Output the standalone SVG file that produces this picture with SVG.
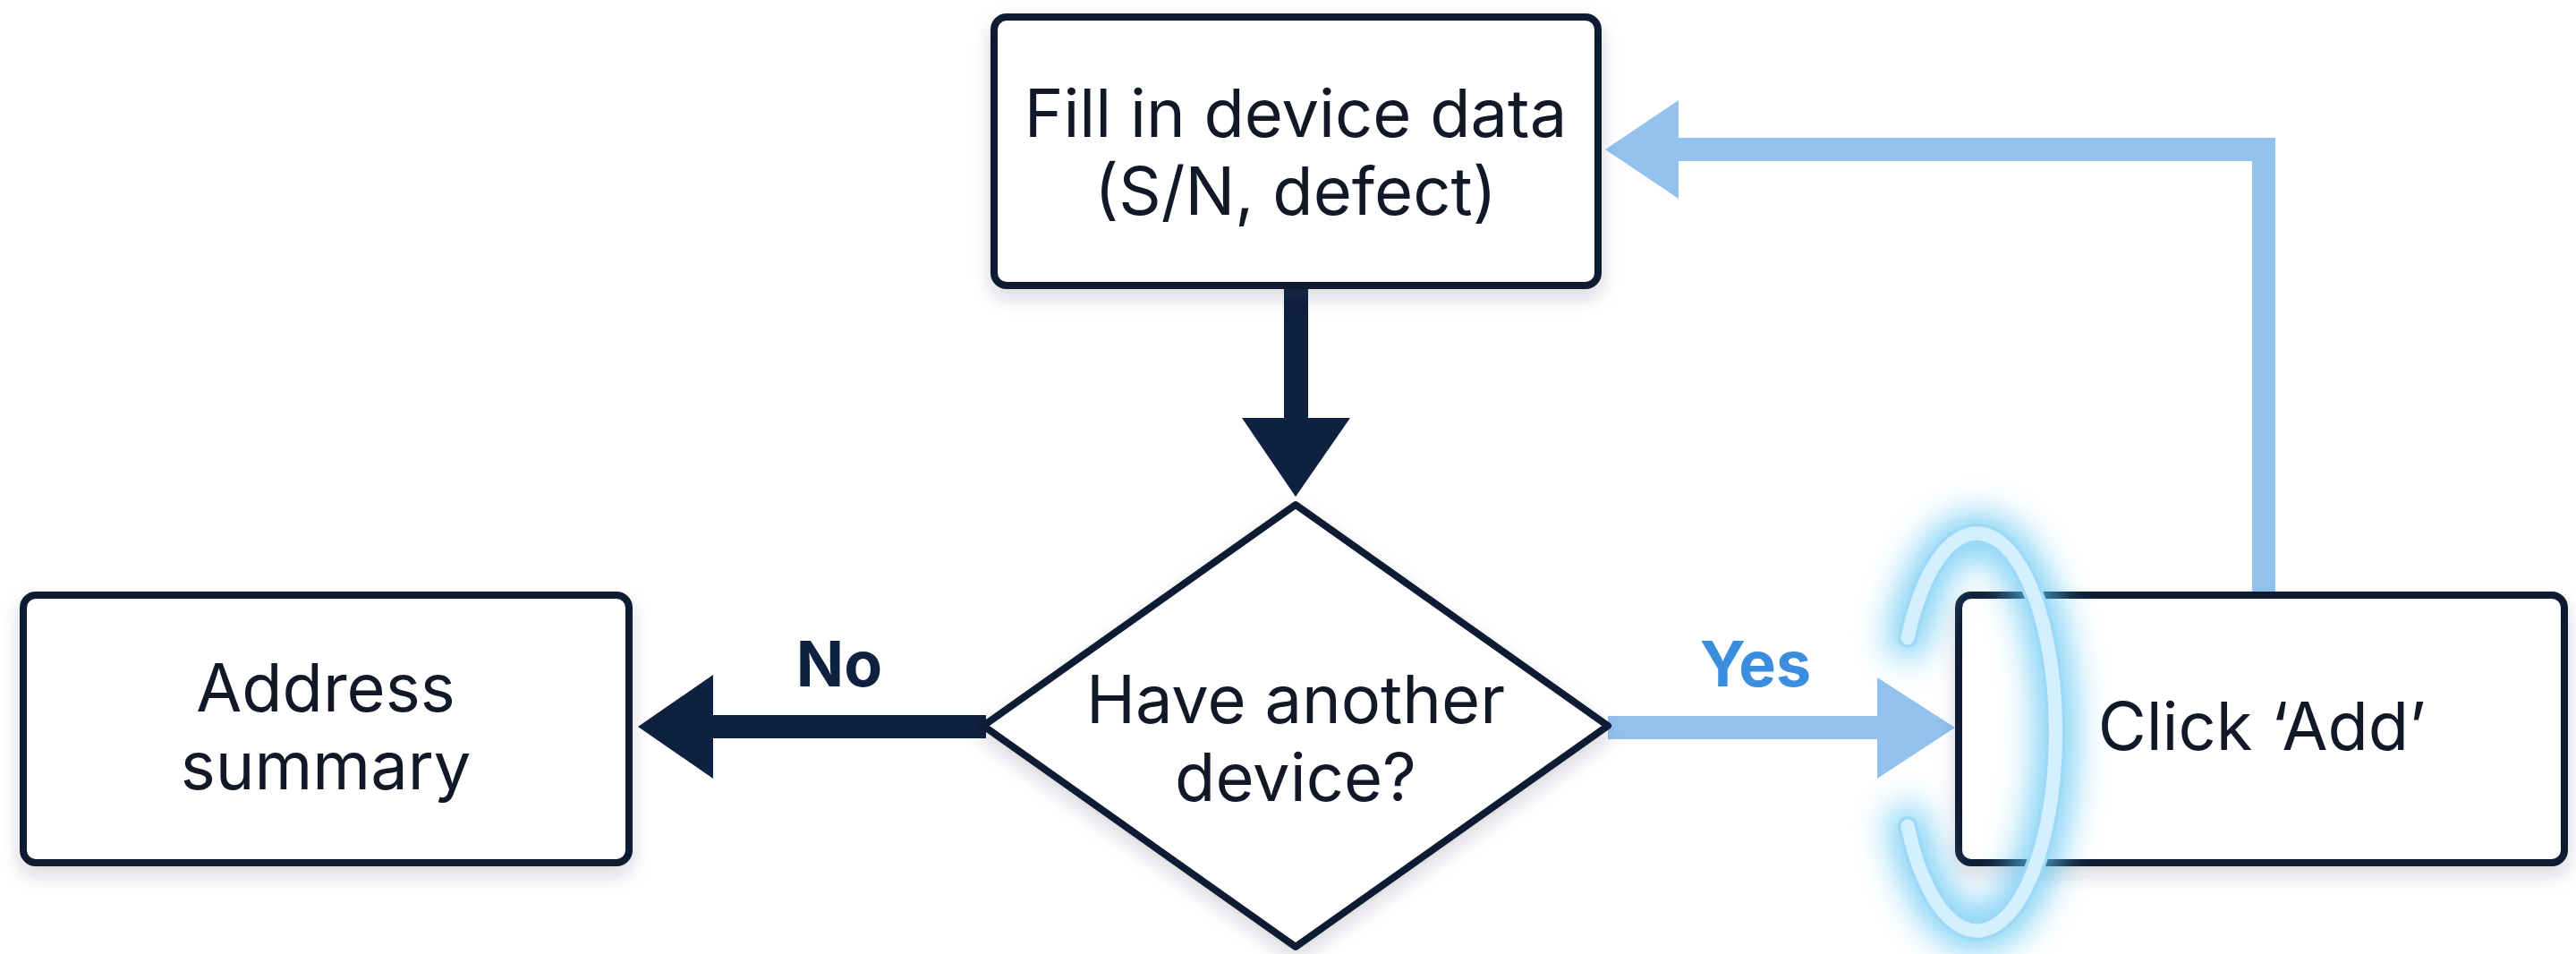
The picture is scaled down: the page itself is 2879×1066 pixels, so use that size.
<svg xmlns="http://www.w3.org/2000/svg" width="2879" height="1066" viewBox="0 0 2879 1066">
<defs>
<style>
.box{fill:#ffffff;stroke:#101b33;stroke-width:8;}
.lbl{font-family:Inter,"Liberation Sans",sans-serif;font-size:74px;fill:#111827;text-anchor:middle;}
.edge{font-family:Inter,"Liberation Sans",sans-serif;font-size:70px;font-weight:700;text-anchor:middle;}
.dark{fill:#0f2141;}
.light{fill:#94c2ef;}
.ring{fill:none;stroke-linecap:round;}
</style>
<filter id="shadow" x="-10%" y="-10%" width="120%" height="130%">
<feDropShadow dx="0" dy="10" stdDeviation="10" flood-color="#1a2a4a" flood-opacity="0.18"/>
</filter>
<filter id="blur" x="-100%" y="-30%" width="300%" height="160%">
<feGaussianBlur stdDeviation="18"/>
</filter>
</defs>
<rect width="2879" height="1066" fill="#ffffff"/>
<g id="connectors">
<rect class="dark" x="1435" y="323" width="27" height="150"/>
<polygon class="dark" points="1388,467 1509,467 1448,555"/>
<rect class="dark" x="792" y="799" width="310" height="26"/>
<polygon class="dark" points="797,754 797,870 713,812"/>
<rect class="light" x="1797" y="800" width="306" height="26"/>
<polygon class="light" points="2098,757 2098,870 2185,813"/>
<path d="M2530 661 V167 H1870" fill="none" stroke="#94c2ef" stroke-width="26"/>
<polygon class="light" points="1876,112 1876,222 1794,167"/>
</g>
<g id="node-fill">
<rect class="box" filter="url(#shadow)" x="1111" y="19" width="675" height="300" rx="14"/>
<text class="lbl" x="1448" y="153">Fill in device data</text>
<text class="lbl" x="1448" y="240">(S/N, defect)</text>
</g>
<g id="node-decision">
<path class="box" filter="url(#shadow)" stroke-linejoin="round" d="M1448 564 L1797 811 L1448 1058 L1099 811 Z"/>
<text class="lbl" x="1448" y="808">Have another</text>
<text class="lbl" x="1448" y="895">device?</text>
</g>
<g id="node-summary">
<rect class="box" filter="url(#shadow)" x="26" y="665" width="677" height="299" rx="14"/>
<text class="lbl" x="364" y="795">Address</text>
<text class="lbl" x="364" y="882">summary</text>
</g>
<g id="node-add">
<rect class="box" filter="url(#shadow)" x="2189" y="665" width="677" height="299" rx="14"/>
<text class="lbl" x="2528" y="838">Click ‘Add’</text>
</g>
<g id="edge-labels">
<text class="edge dark" x="938" y="767">No</text>
<text class="edge" fill="#3b8ede" x="1962" y="767">Yes</text>
</g>
<g id="highlight">
<path class="ring" filter="url(#blur)" d="M2132 713 A88 222 0 1 1 2132 923" stroke="#5cc4f2" stroke-width="48" opacity="0.75"/>
<path class="ring" d="M2132 713 A88 222 0 1 1 2132 923" stroke="#9dd9f7" stroke-width="22"/>
<path class="ring" d="M2132 713 A88 222 0 1 1 2132 923" stroke="#d4effd" stroke-width="15"/>
</g>
</svg>
